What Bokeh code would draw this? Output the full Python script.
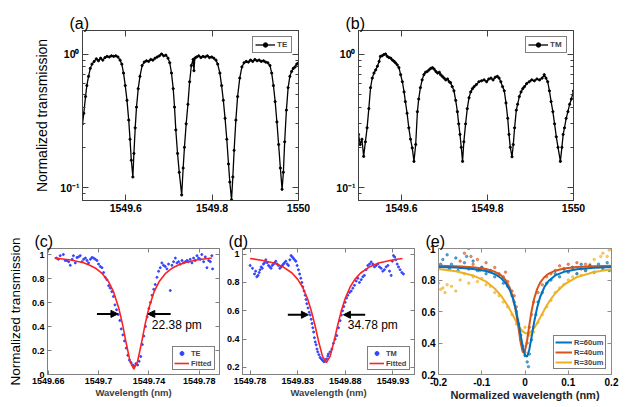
from bokeh.plotting import figure
from bokeh.layouts import column, row
from bokeh.models import (FixedTicker, CustomJSTickFormatter, LinearAxis, LogAxis,
                          Label, Arrow, NormalHead, Title)
from bokeh.embed import file_html
from bokeh.resources import INLINE

FONT = "Liberation Sans"

# ---------------- (a) TE transmission spectrum ----------------
TE_X = [1549.500, 1549.503, 1549.507, 1549.510, 1549.514, 1549.518, 1549.522, 1549.527, 1549.532, 1549.537,
        1549.542, 1549.547, 1549.552, 1549.557, 1549.562, 1549.567, 1549.572, 1549.577, 1549.582, 1549.587,
        1549.591, 1549.595, 1549.599, 1549.603, 1549.607, 1549.610, 1549.613, 1549.6166, 1549.619, 1549.622,
        1549.625, 1549.629, 1549.633, 1549.638, 1549.643, 1549.648, 1549.653, 1549.658, 1549.663, 1549.668,
        1549.673, 1549.678, 1549.683, 1549.688, 1549.693, 1549.698, 1549.702, 1549.706, 1549.710, 1549.713,
        1549.716, 1549.720, 1549.724, 1549.7296, 1549.733, 1549.736, 1549.740, 1549.744, 1549.748, 1549.752,
        1549.756, 1549.758, 1549.760, 1549.764, 1549.769, 1549.774, 1549.779, 1549.784, 1549.789, 1549.794,
        1549.799, 1549.804, 1549.809, 1549.813, 1549.818, 1549.822, 1549.826, 1549.830, 1549.834, 1549.838,
        1549.841, 1549.845, 1549.848, 1549.851, 1549.855, 1549.859, 1549.864, 1549.869, 1549.874, 1549.879,
        1549.884, 1549.889, 1549.894, 1549.899, 1549.904, 1549.909, 1549.914, 1549.919, 1549.924, 1549.929,
        1549.934, 1549.938, 1549.942, 1549.946, 1549.950, 1549.954, 1549.958, 1549.962, 1549.965, 1549.968,
        1549.972, 1549.976, 1549.980, 1549.984, 1549.988, 1549.992, 1549.996, 1550.000]
TE_Y = [0.30, 0.36, 0.48, 0.58, 0.68, 0.78, 0.84, 0.88, 0.92, 0.89,
        0.93, 0.90, 0.94, 0.96, 0.95, 0.97, 0.96, 0.97, 0.95, 0.90,
        0.84, 0.72, 0.58, 0.45, 0.32, 0.23, 0.16, 0.12, 0.18, 0.28,
        0.40, 0.55, 0.68, 0.82, 0.87, 0.89, 0.88, 0.91, 0.90, 0.93,
        0.95, 0.97, 1.00, 0.97, 0.98, 0.93, 0.86, 0.72, 0.55, 0.40,
        0.27, 0.18, 0.13, 0.088, 0.14, 0.20, 0.30, 0.42, 0.62, 0.82,
        0.91, 0.75, 0.93, 0.95, 0.97, 0.94, 0.96, 0.95, 0.97, 0.94,
        0.95, 0.93, 0.90, 0.84, 0.72, 0.58, 0.45, 0.33, 0.23, 0.15,
        0.11, 0.081, 0.12, 0.19, 0.32, 0.48, 0.66, 0.80, 0.86, 0.88,
        0.87, 0.90, 0.88, 0.91, 0.89, 0.90, 0.88, 0.89, 0.87, 0.86,
        0.82, 0.72, 0.58, 0.44, 0.31, 0.21, 0.14, 0.097, 0.13, 0.22,
        0.38, 0.56, 0.68, 0.74, 0.78, 0.80, 0.84, 0.86]

# ---------------- (b) TM transmission spectrum ----------------
TM_X = [1549.500, 1549.504, 1549.508, 1549.512, 1549.516, 1549.520, 1549.524, 1549.528, 1549.532, 1549.536,
        1549.540, 1549.544, 1549.548, 1549.551, 1549.555, 1549.559, 1549.563, 1549.567, 1549.571, 1549.575,
        1549.579, 1549.583, 1549.586, 1549.590, 1549.594, 1549.598, 1549.602, 1549.606, 1549.609, 1549.613,
        1549.617, 1549.621, 1549.625, 1549.629, 1549.633, 1549.637, 1549.640, 1549.644, 1549.648, 1549.652,
        1549.656, 1549.660, 1549.664, 1549.668, 1549.672, 1549.676, 1549.680, 1549.684, 1549.688, 1549.691,
        1549.695, 1549.699, 1549.703, 1549.707, 1549.711, 1549.714, 1549.718, 1549.722, 1549.726, 1549.730,
        1549.733, 1549.736, 1549.739, 1549.742, 1549.745, 1549.749, 1549.753, 1549.757, 1549.761, 1549.765,
        1549.769, 1549.774, 1549.780, 1549.786, 1549.792, 1549.798, 1549.803, 1549.808, 1549.813, 1549.818,
        1549.823, 1549.827, 1549.831, 1549.835, 1549.839, 1549.843, 1549.847, 1549.850, 1549.853, 1549.857,
        1549.860, 1549.863, 1549.867, 1549.870, 1549.874, 1549.878, 1549.882, 1549.886, 1549.891, 1549.897,
        1549.903, 1549.909, 1549.915, 1549.921, 1549.927, 1549.932, 1549.936, 1549.940, 1549.944, 1549.948,
        1549.952, 1549.956, 1549.960, 1549.964, 1549.9695, 1549.973, 1549.976, 1549.979, 1549.983, 1549.987,
        1549.991, 1549.995, 1550.000]
TM_Y = [0.25, 0.21, 0.23, 0.171, 0.22, 0.28, 0.39, 0.56, 0.66, 0.72,
        0.76, 0.81, 0.88, 0.96, 0.97, 0.99, 1.00, 0.96, 0.94, 0.93,
        0.90, 0.88, 0.86, 0.83, 0.79, 0.70, 0.62, 0.52, 0.44, 0.36,
        0.28, 0.23, 0.198, 0.157, 0.21, 0.37, 0.46, 0.56, 0.64, 0.70,
        0.73, 0.74, 0.76, 0.78, 0.79, 0.77, 0.74, 0.72, 0.73, 0.70,
        0.68, 0.66, 0.64, 0.65, 0.62, 0.61, 0.57, 0.53, 0.45, 0.37,
        0.30, 0.25, 0.20, 0.157, 0.22, 0.30, 0.39, 0.47, 0.52, 0.55,
        0.57, 0.59, 0.62, 0.63, 0.64, 0.62, 0.65, 0.66, 0.64, 0.67,
        0.68, 0.66, 0.62, 0.57, 0.53, 0.43, 0.33, 0.25, 0.20, 0.17,
        0.21, 0.28, 0.38, 0.42, 0.48, 0.52, 0.55, 0.57, 0.60, 0.62,
        0.64, 0.63, 0.65, 0.64, 0.66, 0.70, 0.66, 0.62, 0.53, 0.44,
        0.37, 0.30, 0.24, 0.20, 0.157, 0.20, 0.25, 0.28, 0.33, 0.37,
        0.42, 0.46, 0.53]

# ---------------- (c) TE resonance: measured + fitted ----------------
C_X = [1549.6665, 1549.668, 1549.6695, 1549.672, 1549.6735, 1549.6749, 1549.6762, 1549.6775, 1549.679, 1549.680,
       1549.6815, 1549.6828, 1549.684, 1549.6854, 1549.6868, 1549.6881, 1549.6895, 1549.6908, 1549.692, 1549.6935,
       1549.6947, 1549.696, 1549.6974, 1549.6987, 1549.700, 1549.7014, 1549.7027, 1549.704, 1549.7053, 1549.7066,
       1549.708, 1549.7092, 1549.7105, 1549.7118, 1549.713, 1549.7143, 1549.7156, 1549.7169, 1549.718, 1549.7193,
       1549.7206, 1549.722, 1549.7232, 1549.7245, 1549.7258, 1549.727, 1549.7283, 1549.7296, 1549.731, 1549.7322,
       1549.7335, 1549.7348, 1549.736, 1549.7373, 1549.7386, 1549.740, 1549.7412, 1549.7425, 1549.7438, 1549.745,
       1549.7464, 1549.7477, 1549.749, 1549.7503, 1549.7516, 1549.753, 1549.7543, 1549.7556, 1549.757, 1549.7583,
       1549.7596, 1549.761, 1549.7623, 1549.7636, 1549.765, 1549.7663, 1549.7676, 1549.769, 1549.7703, 1549.7715,
       1549.7728, 1549.7742, 1549.7755, 1549.7768, 1549.7782, 1549.7795, 1549.7808, 1549.782, 1549.7835, 1549.7848,
       1549.7861, 1549.7875, 1549.7888, 1549.790, 1549.7906]
C_Y = [0.97, 0.96, 0.99, 1.00, 0.95, 0.95, 0.94, 0.91, 0.96, 0.99,
       0.93, 0.975, 0.98, 0.99, 0.94, 0.96, 0.97, 0.95, 0.93, 0.96,
       0.975, 0.97, 0.96, 0.95, 0.92, 0.90, 0.89, 0.85, 0.81, 0.79,
       0.74, 0.72, 0.69, 0.65, 0.58, 0.54, 0.50, 0.45, 0.38, 0.33,
       0.28, 0.22, 0.16, 0.12, 0.10, 0.08, 0.07, 0.09, 0.08, 0.11,
       0.15, 0.25, 0.32, 0.40, 0.48, 0.55, 0.60, 0.66, 0.71, 0.75,
       0.81, 0.86, 0.89, 0.93, 0.91, 0.90, 0.88, 0.92, 0.70, 0.91,
       0.94, 0.97, 0.93, 0.94, 0.92, 0.95, 0.93, 0.94, 0.95, 0.94,
       0.96, 0.93, 0.97, 0.95, 0.99, 0.97, 0.96, 1.00, 0.94, 0.98,
       0.89, 0.95, 0.94, 0.99, 0.88]
CF_X = [1549.665, 1549.678, 1549.688, 1549.693, 1549.698, 1549.703, 1549.708, 1549.712, 1549.716, 1549.719,
        1549.722, 1549.725, 1549.728, 1549.731, 1549.734, 1549.737, 1549.740, 1549.744, 1549.748, 1549.753,
        1549.758, 1549.763, 1549.768, 1549.778, 1549.790]
CF_Y = [0.971, 0.954, 0.931, 0.911, 0.883, 0.840, 0.772, 0.686, 0.555, 0.420,
        0.258, 0.109, 0.045, 0.109, 0.258, 0.420, 0.555, 0.686, 0.772, 0.840,
        0.883, 0.911, 0.931, 0.954, 0.971]

# ---------------- (d) TM resonance: measured + fitted ----------------
D_X = [1549.7800, 1549.7825, 1549.7846, 1549.7858, 1549.7870, 1549.7883, 1549.7895, 1549.7905, 1549.7916, 1549.7928,
       1549.7940, 1549.7952, 1549.7965, 1549.7980, 1549.7993, 1549.8007, 1549.8020, 1549.8032, 1549.8045, 1549.8058,
       1549.8070, 1549.8084, 1549.8098, 1549.8112, 1549.8126, 1549.8138, 1549.8150, 1549.8162, 1549.8175, 1549.8190,
       1549.8203, 1549.8217, 1549.8230, 1549.8243, 1549.8255, 1549.8268, 1549.8280, 1549.8294, 1549.8307, 1549.8320,
       1549.8332, 1549.8343, 1549.8353, 1549.8366, 1549.8378, 1549.8387, 1549.8395, 1549.8408, 1549.8420, 1549.8431,
       1549.8441, 1549.8450, 1549.8458, 1549.8467, 1549.8475, 1549.8484, 1549.8493, 1549.8502, 1549.8510, 1549.8523,
       1549.8535, 1549.8548, 1549.8560, 1549.8574, 1549.8588, 1549.8602, 1549.8616, 1549.8622, 1549.8640, 1549.8658,
       1549.8675, 1549.8693, 1549.8710, 1549.8728, 1549.8745, 1549.8758, 1549.8770, 1549.8784, 1549.8798, 1549.8812,
       1549.8826, 1549.8844, 1549.8861, 1549.8878, 1549.8896, 1549.8914, 1549.8931, 1549.8948, 1549.8966, 1549.8983,
       1549.9000, 1549.9018, 1549.9036, 1549.9054, 1549.9071, 1549.9088, 1549.9106, 1549.9124, 1549.9141, 1549.9158,
       1549.9176, 1549.9193, 1549.9210, 1549.9228, 1549.9246, 1549.9264, 1549.9281, 1549.9293, 1549.9305, 1549.9318,
       1549.9330, 1549.9344, 1549.9358, 1549.9375, 1549.9393, 1549.9410]
D_Y = [0.92, 0.90, 0.86, 0.88, 0.84, 0.85, 0.87, 0.89, 0.91, 0.90,
       0.93, 0.94, 0.96, 0.94, 0.92, 0.91, 0.90, 0.92, 0.93, 0.94,
       0.95, 0.93, 0.92, 0.90, 0.91, 0.92, 0.93, 0.94, 0.95, 0.93,
       0.92, 0.96, 0.99, 0.98, 0.97, 0.96, 0.95, 0.92, 0.89, 0.86,
       0.83, 0.80, 0.77, 0.74, 0.71, 0.68, 0.65, 0.62, 0.59, 0.57,
       0.54, 0.51, 0.48, 0.45, 0.41, 0.38, 0.36, 0.33, 0.31, 0.29,
       0.27, 0.26, 0.25, 0.24, 0.245, 0.26, 0.28, 0.295, 0.31, 0.33,
       0.37, 0.40, 0.425, 0.48, 0.53, 0.57, 0.60, 0.63, 0.66, 0.69,
       0.71, 0.73, 0.74, 0.76, 0.78, 0.81, 0.83, 0.80, 0.82, 0.84,
       0.85, 0.89, 0.92, 0.93, 0.945, 0.93, 0.91, 0.92, 0.93, 0.91,
       0.90, 0.88, 0.89, 0.91, 0.92, 0.88, 0.85, 0.95, 0.99, 0.98,
       0.96, 0.93, 0.91, 0.89, 0.87, 0.86]
DF_X = [1549.780, 1549.792, 1549.805, 1549.815, 1549.824, 1549.830, 1549.835, 1549.840, 1549.844, 1549.848,
        1549.852, 1549.856, 1549.860, 1549.864, 1549.868, 1549.872, 1549.876, 1549.880, 1549.885, 1549.890,
        1549.896, 1549.905, 1549.915, 1549.928, 1549.940]
DF_Y = [0.969, 0.957, 0.937, 0.909, 0.867, 0.822, 0.768, 0.690, 0.606, 0.500,
        0.381, 0.278, 0.235, 0.278, 0.381, 0.500, 0.606, 0.690, 0.768, 0.822,
        0.867, 0.909, 0.937, 0.957, 0.969]

# ---------------- (e) radius comparison ----------------
E_X = [-0.2, -0.16, -0.12, -0.09, -0.07, -0.055, -0.045, -0.035, -0.028, -0.021, -0.015, -0.01, -0.005, 0.0,
       0.005, 0.01, 0.015, 0.021, 0.028, 0.035, 0.045, 0.055, 0.07, 0.09, 0.12, 0.16, 0.2]
FIT60 = [0.883, 0.879, 0.870, 0.857, 0.838, 0.811, 0.782, 0.735, 0.684, 0.612, 0.530, 0.450, 0.373, 0.320,
         0.314, 0.359, 0.434, 0.530, 0.624, 0.692, 0.756, 0.795, 0.829, 0.852, 0.868, 0.878, 0.882]
FIT40 = [0.890, 0.887, 0.881, 0.870, 0.853, 0.829, 0.800, 0.749, 0.690, 0.600, 0.495, 0.402, 0.341, 0.349,
         0.419, 0.514, 0.600, 0.679, 0.742, 0.783, 0.819, 0.841, 0.859, 0.873, 0.882, 0.887, 0.890]
FIT30 = [0.870, 0.856, 0.829, 0.790, 0.746, 0.699, 0.659, 0.612, 0.576, 0.540, 0.511, 0.490, 0.474, 0.464,
         0.460, 0.464, 0.474, 0.494, 0.526, 0.561, 0.612, 0.659, 0.716, 0.770, 0.818, 0.851, 0.868]
DOT60_X = [-0.195, -0.19, -0.18, -0.175, -0.17, -0.16, -0.155, -0.15, -0.14, -0.135, -0.13, -0.12, -0.11, -0.10,
           -0.09, -0.08, -0.07, -0.06, -0.05, -0.04, -0.03, -0.025, -0.02, -0.015, -0.01, -0.005, 0.0, 0.005,
           0.008, 0.01, 0.015, 0.02, 0.025, 0.03, 0.04, 0.05, 0.06, 0.07, 0.08, 0.09, 0.10, 0.11, 0.12, 0.13,
           0.14, 0.15, 0.16, 0.17, 0.18, 0.19, 0.195]
DOT60_Y = [0.90, 0.93, 0.96, 0.87, 0.90, 0.94, 0.86, 0.88, 0.91, 0.95, 0.87, 0.92, 0.86, 0.88,
           0.84, 0.86, 0.82, 0.83, 0.78, 0.76, 0.70, 0.66, 0.60, 0.52, 0.45, 0.38, 0.32, 0.28,
           0.25, 0.33, 0.42, 0.50, 0.58, 0.66, 0.72, 0.78, 0.80, 0.84, 0.82, 0.87, 0.85, 0.88, 0.84, 0.90,
           0.86, 0.89, 0.85, 0.90, 0.87, 0.91, 0.86]
DOT40_X = [-0.15, -0.145, -0.14, -0.13, -0.125, -0.12, -0.11, -0.105, -0.10, -0.09, -0.08, -0.07, -0.06, -0.05,
           -0.045, -0.04, -0.03, -0.025, -0.02, -0.015, -0.01, -0.005, 0.0, 0.005, 0.01, 0.015, 0.02, 0.03,
           0.04, 0.05, 0.06, 0.07, 0.08, 0.09, 0.10, 0.11, 0.12, 0.13, 0.14, 0.15]
DOT40_Y = [0.92, 0.88, 0.97, 1.0, 0.95, 0.90, 0.93, 0.86, 0.88, 0.91, 0.86, 0.88, 0.84, 0.82,
           0.85, 0.79, 0.73, 0.70, 0.63, 0.52, 0.42, 0.36, 0.34, 0.40, 0.50, 0.58, 0.66, 0.72,
           0.77, 0.82, 0.84, 0.86, 0.89, 0.87, 0.90, 0.88, 0.91, 0.87, 0.90, 0.89]
DOT30_X = [-0.2, -0.195, -0.19, -0.185, -0.18, -0.17, -0.16, -0.15, -0.14, -0.13, -0.12, -0.11, -0.10, -0.09,
           -0.08, -0.07, -0.06, -0.05, -0.04, -0.03, -0.02, -0.01, 0.0, 0.01, 0.02, 0.03, 0.04, 0.05, 0.06,
           0.07, 0.08, 0.09, 0.10, 0.11, 0.12, 0.13, 0.14, 0.15, 0.16, 0.17, 0.175, 0.18, 0.19, 0.195, 0.2]
DOT30_Y = [0.78, 0.74, 0.75, 0.72, 0.77, 0.76, 0.73, 0.80, 0.84, 0.78, 0.82, 0.79, 0.81, 0.77,
           0.76, 0.72, 0.70, 0.66, 0.63, 0.58, 0.52, 0.48, 0.50, 0.45, 0.47, 0.53, 0.58, 0.63, 0.67,
           0.72, 0.75, 0.77, 0.80, 0.82, 0.84, 0.83, 0.86, 0.90, 0.93, 0.88, 0.95, 0.97, 0.95, 0.99, 1.0]

# tick values
A_XTICKS = [1549.6, 1549.8, 1550.0]
LOG_TICKS = [0.1, 1.0]
LOG_MINOR = [0.09, 0.2, 0.3, 0.4, 0.5, 0.6, 0.7, 0.8, 0.9]
C_XTICKS = [1549.66, 1549.70, 1549.74, 1549.78]
C_YTICKS = [0.0, 0.2, 0.4, 0.6, 0.8, 1.0]
D_XTICKS = [1549.78, 1549.83, 1549.88, 1549.93]
D_YTICKS = [0.2, 0.4, 0.6, 0.8, 1.0]
E_XTICKS = [-0.2, -0.1, 0.0, 0.1, 0.2]
E_YTICKS = [0.2, 0.4, 0.6, 0.8, 1.0]

NUM_FMT = "return parseFloat(tick.toFixed(3)).toString();"
LOG_FMT = "return tick > 0.5 ? '10\u2070' : '10\u207B\u00B9';"
BLANK_FMT = "return '';"


def panel(fw, fh, xr, yr, borders, tag_text, tag_dx, log=False, color="#404040"):
    bl, br, bt, bb = borders
    title = Title(text=tag_text, align="left", offset=tag_dx, standoff=-3,
                  text_font=FONT, text_font_size="16px", text_font_style="normal",
                  text_color="black")
    p = figure(frame_width=fw, frame_height=fh, x_range=xr, y_range=yr,
               y_axis_type="log" if log else "linear",
               output_backend="svg", toolbar_location=None, title=title,
               min_border_left=bl, min_border_right=br,
               min_border_top=bt, min_border_bottom=bb)
    p.xgrid.visible = False
    p.ygrid.visible = False
    p.outline_line_color = color
    p.background_fill_color = "white"
    p.border_fill_color = "white"
    return p


def style_axis(ax, ticks, minor, size, color, fmt, major_in=4, minor_in=2, labels=True):
    ax.ticker = FixedTicker(ticks=ticks, minor_ticks=minor)
    ax.axis_line_color = color
    ax.major_tick_line_color = color
    ax.minor_tick_line_color = color
    ax.major_tick_in = major_in
    ax.major_tick_out = 0
    ax.minor_tick_in = minor_in
    ax.minor_tick_out = 0
    if labels:
        ax.formatter = CustomJSTickFormatter(code=fmt)
        ax.major_label_text_font = FONT
        ax.major_label_text_font_style = "bold"
        ax.major_label_text_font_size = size
        ax.major_label_text_color = "black"
        ax.major_label_standoff = 3
    else:
        ax.formatter = CustomJSTickFormatter(code=BLANK_FMT)
        ax.major_label_text_font_size = "0px"
        ax.major_label_standoff = 0


def axes(p, xt, yt, ymin, size, color, yfmt=NUM_FMT, log=False, major_in=4, minor_in=2):
    bx = p.xaxis[0]
    ly = p.yaxis[0]
    style_axis(bx, xt, [], size, color, NUM_FMT, major_in, minor_in)
    style_axis(ly, yt, ymin, size, color, yfmt, major_in, minor_in)
    top = LinearAxis()
    right = LogAxis() if log else LinearAxis()
    style_axis(top, xt, [], size, color, None, major_in, minor_in, labels=False)
    style_axis(right, yt, ymin, size, color, None, major_in, minor_in, labels=False)
    p.add_layout(top, "above")
    p.add_layout(right, "right")
    return bx, ly


def ylabel(ax, text, size, standoff):
    ax.axis_label = text
    ax.axis_label_text_font = FONT
    ax.axis_label_text_font_size = size
    ax.axis_label_text_font_style = "normal"
    ax.axis_label_text_color = "black"
    ax.axis_label_standoff = standoff


def xlabel(ax, text, size, color="#404040"):
    ax.axis_label = text
    ax.axis_label_text_font = FONT
    ax.axis_label_text_font_size = size
    ax.axis_label_text_font_style = "bold"
    ax.axis_label_text_color = color
    ax.axis_label_standoff = 0


def style_legend(p, loc, margin, glyph_w, label_w, font_size, row_h, padding=2):
    lg = p.legend[0]
    lg.location = loc
    lg.margin = margin
    lg.padding = padding
    lg.spacing = 0
    lg.glyph_width = glyph_w
    lg.glyph_height = row_h
    lg.label_height = row_h
    lg.label_width = label_w
    lg.label_standoff = 2
    lg.label_text_font = FONT
    lg.label_text_font_size = font_size
    lg.label_text_font_style = "bold"
    lg.border_line_color = "black"
    lg.border_line_width = 1
    lg.background_fill_color = "white"
    return lg


def fwhm_arrows(p, xl0, xl1, xr0, xr1, y, text, tx, ty):
    for xs, xe in ((xl0, xl1), (xr0, xr1)):
        p.add_layout(Arrow(end=NormalHead(size=7, fill_color="black", line_color="black"),
                           x_start=xs, y_start=y, x_end=xe, y_end=y,
                           line_width=2, line_color="black"))
    p.add_layout(Label(x=tx, y=ty, text=text, text_font=FONT,
                       text_font_size="12px", text_baseline="middle", text_color="black"))


# ---- (a)
fa = panel(216, 170, (1549.5, 1550.0), (0.08, 1.5), (82, 12, 30, 24), "(a)", -13, log=True)
fa.line(TE_X, TE_Y, line_color="black", line_width=1.3, legend_label="TE")
fa.scatter(TE_X, TE_Y, marker="circle", size=2.2, color="black", legend_label="TE")
ax_b, ax_l = axes(fa, A_XTICKS, LOG_TICKS, LOG_MINOR, "10.5px", "#404040", yfmt=LOG_FMT, log=True,
                  major_in=6, minor_in=3)
ylabel(ax_l, "Normalized transmission", "14px", 7)
style_legend(fa, "top_right", 6, 20, 12, "8px", 11)

# ---- (b)
fb = panel(215, 170, (1549.5, 1550.0), (0.08, 1.5), (48, 20, 30, 24), "(b)", -13, log=True)
fb.line(TM_X, TM_Y, line_color="black", line_width=1.3, legend_label="TM")
fb.scatter(TM_X, TM_Y, marker="circle", size=2.2, color="black", legend_label="TM")
axes(fb, A_XTICKS, LOG_TICKS, LOG_MINOR, "10.5px", "#404040", yfmt=LOG_FMT, log=True,
     major_in=6, minor_in=3)
style_legend(fb, "top_right", 6, 20, 14, "8px", 11)

# ---- (c)
fc = panel(172, 126, (1549.6594, 1549.7961), (0.0, 1.05), (47, 3, 24, 25), "(c)", -13, color="#7f7f7f")
fc.scatter(C_X, C_Y, marker="circle", size=2, color="#3344ff", legend_label="TE")
fc.line(CF_X, CF_Y, line_color="#ff2020", line_width=1.6, legend_label="Fitted")
ax_b, ax_l = axes(fc, C_XTICKS, C_YTICKS, [], "9px", "#7f7f7f")
ylabel(ax_l, "Normalized transmission", "13.5px", 6)
xlabel(ax_b, "Wavelength (nm)", "9.5px")
style_legend(fc, "bottom_right", 4, 15, 22, "7.5px", 10, padding=1)
fwhm_arrows(fc, 1549.6987, 1549.7154, 1549.7573, 1549.7391, 0.505, "22.38 pm", 1549.7423, 0.413)

# ---- (d)
fd = panel(172, 126, (1549.772, 1549.9526), (0.15, 1.04), (20, 3, 24, 25), "(d)", -14, color="#7f7f7f")
fd.scatter(D_X, D_Y, marker="circle", size=2, color="#3344ff", legend_label="TM")
fd.line(DF_X, DF_Y, line_color="#ff2020", line_width=1.6, legend_label="Fitted")
ax_b, ax_l = axes(fd, D_XTICKS, D_YTICKS, [], "9px", "#7f7f7f")
xlabel(ax_b, "Wavelength (nm)", "9.5px")
style_legend(fd, "bottom_right", 4, 15, 22, "7.5px", 10, padding=1)
fwhm_arrows(fd, 1549.8196, 1549.8412, 1549.9008, 1549.878, 0.572, "34.78 pm", 1549.8826, 0.501)

# ---- (e)
C60, C40, C30 = "#0072BD", "#D95319", "#EDB120"
fe = panel(173, 126, (-0.2, 0.2), (0.2, 1.0), (21, 8, 24, 25), "(e)", -13, color="#8c8c8c")
fe.scatter(DOT30_X, DOT30_Y, marker="circle", size=2.5, color=C30, alpha=0.6)
fe.scatter(DOT40_X, DOT40_Y, marker="circle", size=2.5, color=C40, alpha=0.6)
fe.scatter(DOT60_X, DOT60_Y, marker="circle", size=2.5, color=C60, alpha=0.6)
fe.line(E_X, FIT30, line_color=C30, line_width=2, legend_label="R=30um")
fe.line(E_X, FIT40, line_color=C40, line_width=2, legend_label="R=40um")
fe.line(E_X, FIT60, line_color=C60, line_width=2, legend_label="R=60um")
ax_b, ax_l = axes(fe, E_XTICKS, E_YTICKS, [], "10px", "#8c8c8c")
xlabel(ax_b, "Normalized wavelength (nm)", "11px", "#262626")
lg = style_legend(fe, "bottom_right", 5, 17, 30, "7.5px", 10, padding=1)
lg.items = list(reversed(lg.items))

layout = column(row(fa, fb), row(fc, fd, fe))
open("out.html", "w").write(file_html(layout, INLINE))
